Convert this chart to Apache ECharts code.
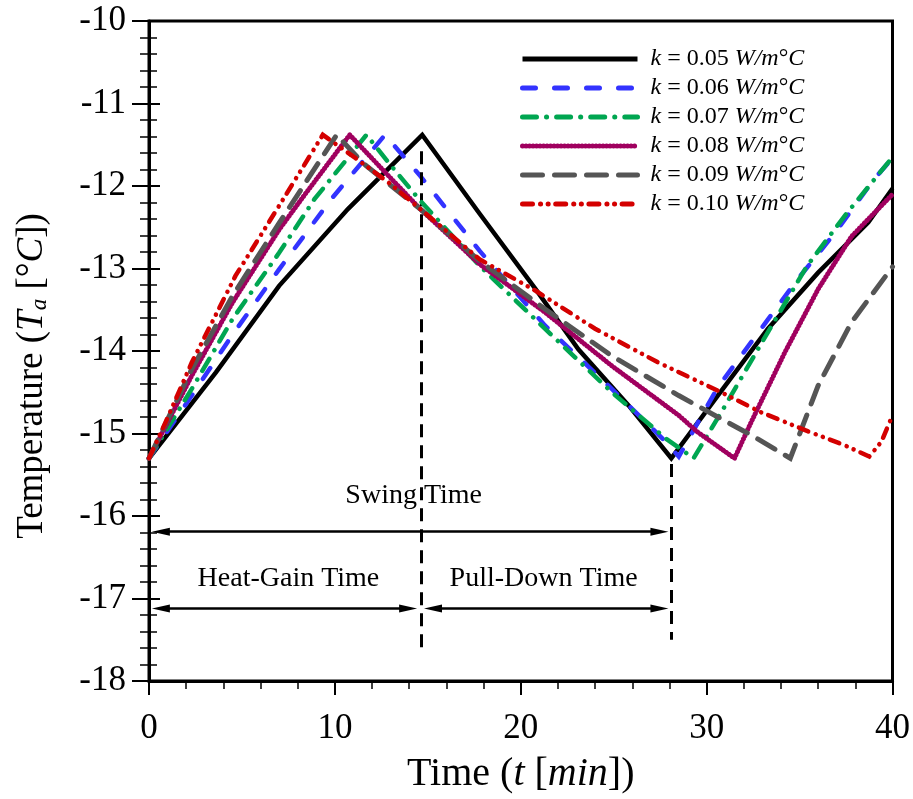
<!DOCTYPE html>
<html>
<head>
<meta charset="utf-8">
<script src="https://cdn.jsdelivr.net/npm/echarts@6/dist/echarts.min.js"></script>
<style>
html,body{margin:0;padding:0;background:#fff;overflow:hidden;}
#chart{width:913px;height:799px;}
</style>
</head>
<body>
<div id="chart"></div>
<script>
// ---- data (time in min, temperature in °C) ----
const kValues = ['0.05', '0.06', '0.07', '0.08', '0.09', '0.10'];

const k05_t = [0, 1.8, 3.6, 7.0, 10.7, 14.7, 17.8, 20.8, 23.1, 25.8, 28.1, 30.6, 33.3, 36.0, 38.7, 40];
const k05_T = [-15.3, -14.78, -14.26, -13.21, -12.28, -11.38, -12.34, -13.25, -13.98, -14.66, -15.3, -14.54, -13.73, -13.05, -12.44, -12.03];

const k06_t = [0, 2.3, 4.5, 7.0, 9.8, 12.7, 14.6, 17.8, 21.3, 24.9, 27.8, 28.5, 30.6, 32.8, 34.9, 36.9, 39.0, 40];
const k06_T = [-15.3, -14.54, -13.8, -13.01, -12.16, -11.38, -11.88, -12.79, -13.69, -14.46, -15.1, -15.28, -14.44, -13.77, -13.13, -12.57, -11.92, -11.66];

const k07_t = [0, 2.3, 4.5, 7.0, 8.9, 11.7, 12.9, 14.6, 17.8, 21.3, 24.9, 27.8, 29.3, 30.9, 33.3, 35.4, 37.4, 40];
const k07_T = [-15.3, -14.46, -13.61, -12.81, -12.16, -11.38, -11.72, -12.18, -12.97, -13.73, -14.5, -15.06, -15.3, -14.7, -13.77, -12.97, -12.37, -11.65];

const k08_t = [0, 2.3, 4.5, 7.0, 8.2, 10.8, 12.9, 14.6, 17.8, 21.3, 24.9, 28.5, 29.5, 31.5, 32.4, 34.2, 36.0, 37.8, 40];
const k08_T = [-15.3, -14.3, -13.41, -12.53, -12.16, -11.38, -11.88, -12.28, -12.95, -13.53, -14.18, -14.78, -14.98, -15.3, -14.86, -14.02, -13.25, -12.61, -12.1];

const k09_t = [0, 2.3, 4.5, 7.0, 10.1, 11.5, 14.6, 17.8, 21.3, 24.9, 28.5, 30.6, 32.4, 34.5, 36.0, 37.8, 40];
const k09_T = [-15.3, -14.22, -13.33, -12.45, -11.38, -11.72, -12.28, -12.91, -13.49, -14.06, -14.54, -14.8, -15.02, -15.3, -14.42, -13.65, -12.98];

const k10_t = [0, 0.9, 2.3, 4.65, 7.0, 9.35, 11.1, 12.9, 14.6, 17.8, 20.8, 24.0, 27.4, 30.6, 32.9, 35.3, 37.4, 38.75, 39.4, 40];
const k10_T = [-15.3, -14.86, -14.14, -13.09, -12.24, -11.38, -11.66, -11.96, -12.28, -12.89, -13.27, -13.73, -14.14, -14.48, -14.74, -14.96, -15.14, -15.28, -15.1, -14.78];

// axis ticks
const xTicks = [0, 10, 20, 30, 40];
const yTicks = [-18, -17, -16, -15, -14, -13, -12, -11, -10];

// annotations (data coordinates)
const annoText = ['Swing Time', 'Heat-Gain Time', 'Pull-Down Time'];
const annoTextT = [14.24, 7.5, 21.23];
const annoTextY = [-15.75, -16.76, -16.76];
const dividerT = [14.65, 28.1];
const dividerTop = [-11.58, -15.37];
const dividerBottom = [-17.63, -17.5];
const arrowFrom = [0.16, 0.16, 14.8];
const arrowTo = [27.94, 14.42, 27.94];
const arrowY = [-16.19, -17.12, -17.12];

// ---- styles ----
const FONT = 'Liberation Serif';
const colors = ['#000000', '#3333ff', '#00a651', '#a0005f', '#555555', '#d40000'];
const widths = [4.5, 4.5, 4.5, 5, 5, 4.5];
const dashes = ['solid', [13, 19], [14, 10, 0.1, 10], [0.1, 3.4], [20, 12], [10, 8, 0.1, 7.5, 0.1, 7.5]];

const tArrays = [k05_t, k06_t, k07_t, k08_t, k09_t, k10_t];
const TArrays = [k05_T, k06_T, k07_T, k08_T, k09_T, k10_T];

const series = kValues.map((k, i) => ({
  name: k,
  type: 'line',
  symbol: 'none',
  showSymbol: false,
  animation: false,
  data: tArrays[i].map((t, j) => [t, TArrays[i][j]]),
  lineStyle: {
    color: colors[i],
    width: widths[i],
    type: dashes[i],
    cap: i === 0 ? 'butt' : 'round',
    join: 'miter'
  },
  itemStyle: { color: colors[i] },
  z: 3 + i
}));

// arrow head inset (tip of symbol sits at given coordinate)
const inset = 0.48;
const markData = [];
for (let i = 0; i < dividerT.length; i++) {
  markData.push([
    { coord: [dividerT[i], dividerTop[i]], symbol: 'none',
      lineStyle: { type: [13, 8], width: 3, color: '#000' } },
    { coord: [dividerT[i], dividerBottom[i]], symbol: 'none' }
  ]);
}
for (let i = 0; i < arrowFrom.length; i++) {
  markData.push([
    { coord: [arrowFrom[i] + inset, arrowY[i]], symbol: 'triangle', symbolSize: [8, 18],
      lineStyle: { type: 'solid', width: 2.5, color: '#000' } },
    { coord: [arrowTo[i] - inset, arrowY[i]], symbol: 'triangle', symbolSize: [8, 18] }
  ]);
}

series.push({
  name: 'annotations',
  type: 'scatter',
  symbolSize: 0,
  silent: true,
  animation: false,
  itemStyle: { opacity: 1, color: '#000' },
  data: annoText.map((s, i) => ({ value: [annoTextT[i], annoTextY[i]], name: s })),
  label: {
    show: true,
    position: 'inside',
    formatter: p => p.name,
    fontFamily: FONT,
    fontSize: 28,
    color: '#000',
    opacity: 1
  },
  markLine: {
    silent: true,
    animation: false,
    label: { show: false },
    itemStyle: { color: '#000' },
    lineStyle: { color: '#000' },
    data: markData
  },
  z: 10
});

const chart = echarts.init(document.getElementById('chart'), null, { renderer: 'canvas' });
chart.setOption({
  backgroundColor: '#fff',
  animation: false,
  textStyle: { fontFamily: FONT, color: '#000' },
  grid: { left: 149, right: 18, top: 21, bottom: 99, show: true, borderColor: '#000', borderWidth: 3, backgroundColor: 'transparent' },
  legend: {
    orient: 'vertical',
    left: 515,
    top: 42,
    itemWidth: 115,
    itemHeight: 14,
    itemGap: 5,
    data: kValues,
    itemStyle: { opacity: 0 },
    lineStyle: { width: 5 },
    formatter: name => '{i|k} = ' + name + ' {i|W/m}°{i|C}',
    textStyle: {
      fontFamily: FONT, fontSize: 24, color: '#000', padding: [0, 0, 0, 8],
      rich: { i: { fontFamily: FONT, fontSize: 24, fontStyle: 'italic', color: '#000' } }
    }
  },
  xAxis: {
    type: 'value',
    min: xTicks[0],
    max: xTicks[xTicks.length - 1],
    interval: xTicks[1] - xTicks[0],
    splitLine: { show: false },
    axisLine: { onZero: false, lineStyle: { color: '#000', width: 3 } },
    axisTick: { show: true, inside: false, length: 14, lineStyle: { color: '#000', width: 2 } },
    minorTick: { show: true, splitNumber: 5, length: 8, lineStyle: { color: '#000', width: 1.5 } },
    axisLabel: { fontFamily: FONT, fontSize: 35, color: '#000', margin: 30 },
    name: '{n|Time (}{i|t}{n| [}{i|min}{n|])}',
    nameLocation: 'middle',
    nameGap: 73,
    nameTextStyle: {
      rich: {
        n: { fontFamily: FONT, fontSize: 40, color: '#000' },
        i: { fontFamily: FONT, fontSize: 40, fontStyle: 'italic', color: '#000' }
      }
    }
  },
  yAxis: [{
    type: 'value',
    min: yTicks[0],
    max: yTicks[yTicks.length - 1],
    interval: yTicks[1] - yTicks[0],
    position: 'left',
    splitLine: { show: false },
    axisLine: { onZero: false, lineStyle: { color: '#000', width: 3 } },
    axisTick: { show: true, inside: false, length: 17, lineStyle: { color: '#000', width: 2 } },
    minorTick: { show: true, splitNumber: 5, length: 9, lineStyle: { color: '#000', width: 1.5 } },
    axisLabel: { fontFamily: FONT, fontSize: 35, color: '#000', margin: 23 },
    name: '{n|Temperature (}{i|T}{s|a}{n| [°}{i|C}{n|])}',
    nameLocation: 'middle',
    nameGap: 98,
    nameTextStyle: {
      padding: [0, 50, 0, 0],
      rich: {
        n: { fontFamily: FONT, fontSize: 37, color: '#000' },
        i: { fontFamily: FONT, fontSize: 37, fontStyle: 'italic', color: '#000' },
        s: { fontFamily: FONT, fontSize: 23, fontStyle: 'italic', color: '#000', verticalAlign: 'bottom', padding: [15, 0, 0, 0] }
      }
    }
  }, {
    type: 'value',
    min: yTicks[0],
    max: yTicks[yTicks.length - 1],
    interval: yTicks[1] - yTicks[0],
    position: 'left',
    splitLine: { show: false },
    axisLine: { show: false },
    axisTick: { show: true, inside: true, length: 11, lineStyle: { color: '#000', width: 2 } },
    minorTick: { show: true, splitNumber: 5, length: 8, lineStyle: { color: '#000', width: 1.5 } },
    axisLabel: { show: false }
  }],
  series: series
});
</script>
</body>
</html>
